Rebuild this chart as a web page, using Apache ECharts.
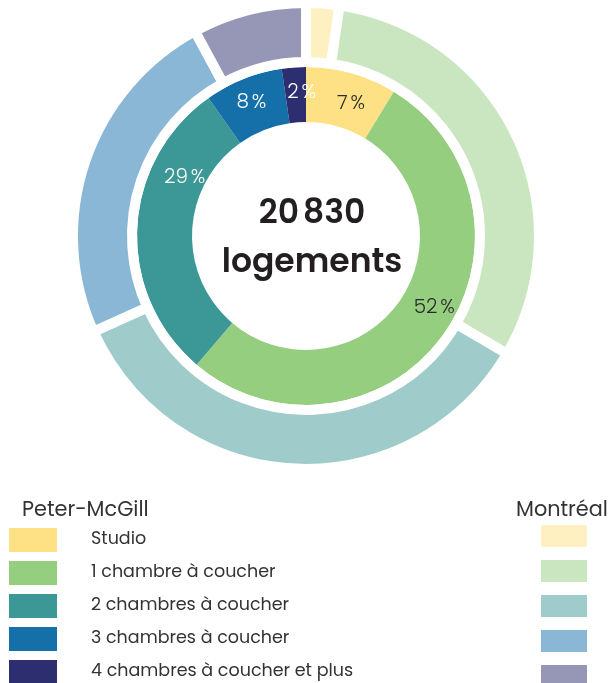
<!DOCTYPE html>
<html>
<head>
<meta charset="utf-8">
<script src="https://cdn.jsdelivr.net/npm/echarts@6/dist/echarts.min.js"></script>
<style>
  html, body { margin: 0; padding: 0; background: #fff; }
  #main { width: 611px; height: 683px; }
</style>
</head>
<body>
<div id="main"></div>
<script>
// categories
var categories = ['Studio', '1 chambre à coucher', '2 chambres à coucher', '3 chambres à coucher', '4 chambres à coucher et plus'];
// Peter-McGill shares (inner ring)
var peterMcGill = [8.7, 52.5, 29.0, 7.5, 2.3];
// printed labels of the inner ring
var peterLabels = ['7\u202F%', '52\u202F%', '29\u202F%', '8\u202F%', '2\u202F%'];
// Montréal shares (outer ring)
var montreal = [2.3, 31.1, 34.8, 23.8, 7.9];
var totalText = '20\u202F830';

var innerColors = ['#fee185', '#96ce80', '#3b9896', '#1570a9', '#2c2e70'];
var outerColors = ['#fef0c1', '#cae6c0', '#9fcbca', '#89b7d5', '#9697b6'];
var labelColors = ['#2b2b2b', '#2b2b2b', '#ffffff', '#ffffff', '#ffffff'];
// nudges applied to the inside labels
var labelShift = [[6, 7], [11, -13], [23, -52], [-1, 1], [6, 1]];

var innerData = categories.map(function (c, i) {
    return {
        name: c,
        value: peterMcGill[i],
        itemStyle: { color: innerColors[i] },
        label: { formatter: peterLabels[i], color: labelColors[i] }
    };
});
var outerNames = categories.map(function (c) { return 'Montréal - ' + c; });
var outerData = categories.map(function (c, i) {
    return { name: outerNames[i], value: montreal[i], itemStyle: { color: outerColors[i] } };
});

var chartDom = document.getElementById('main');
var myChart = echarts.init(chartDom, null, { renderer: 'canvas' });
var font = 'Poppins, "Noto Sans", sans-serif';

var option = {
    animation: false,
    title: [
        {
            text: totalText + '\nlogements',
            left: 312,
            top: 190,
            padding: 0,
            textAlign: 'center',
            textStyle: { fontFamily: font, fontWeight: 600, fontSize: 33, lineHeight: 49, color: '#231f20' }
        },
        {
            text: 'Peter-McGill',
            left: 22,
            top: 500,
            padding: 0,
            textStyle: { fontFamily: font, fontWeight: 'normal', fontSize: 20.8, color: '#333' }
        },
        {
            text: 'Montréal',
            left: 516,
            top: 500,
            padding: 0,
            textStyle: { fontFamily: font, fontWeight: 'normal', fontSize: 20.8, color: '#333' }
        }
    ],
    legend: [
        {
            data: categories,
            orient: 'vertical',
            left: 9,
            top: 528,
            height: 170,
            padding: 0,
            icon: 'rect',
            itemWidth: 48,
            itemHeight: 24,
            itemGap: 9,
            selectedMode: false,
            textStyle: { fontFamily: font, fontSize: 17.5, color: '#333', padding: [4, 0, 0, 29] }
        },
        {
            data: outerNames,
            orient: 'vertical',
            left: 539,
            top: 523,
            height: 170,
            padding: 0,
            icon: 'rect',
            itemWidth: 48,
            itemHeight: 24,
            itemGap: 9,
            selectedMode: false,
            formatter: function () { return ''; }
        }
    ],
    series: [
        {
            name: 'Peter-McGill',
            type: 'pie',
            center: [306, 236],
            radius: [114, 169],
            startAngle: 90,
            clockwise: true,
            avoidLabelOverlap: false,
            silent: true,
            label: {
                show: true,
                position: 'inside',
                fontFamily: font,
                fontWeight: 300,
                fontSize: 20
            },
            labelLine: { show: false },
            labelLayout: function (params) {
                var s = labelShift[params.dataIndex];
                return { dx: s[0], dy: s[1] };
            },
            data: innerData
        },
        {
            name: 'Montréal',
            type: 'pie',
            center: [306, 236],
            radius: [174, 233],
            startAngle: 90,
            clockwise: true,
            silent: true,
            label: { show: false },
            labelLine: { show: false },
            itemStyle: { borderColor: '#ffffff', borderWidth: 10 },
            data: outerData
        }
    ]
};

option && myChart.setOption(option);
</script>
</body>
</html>
